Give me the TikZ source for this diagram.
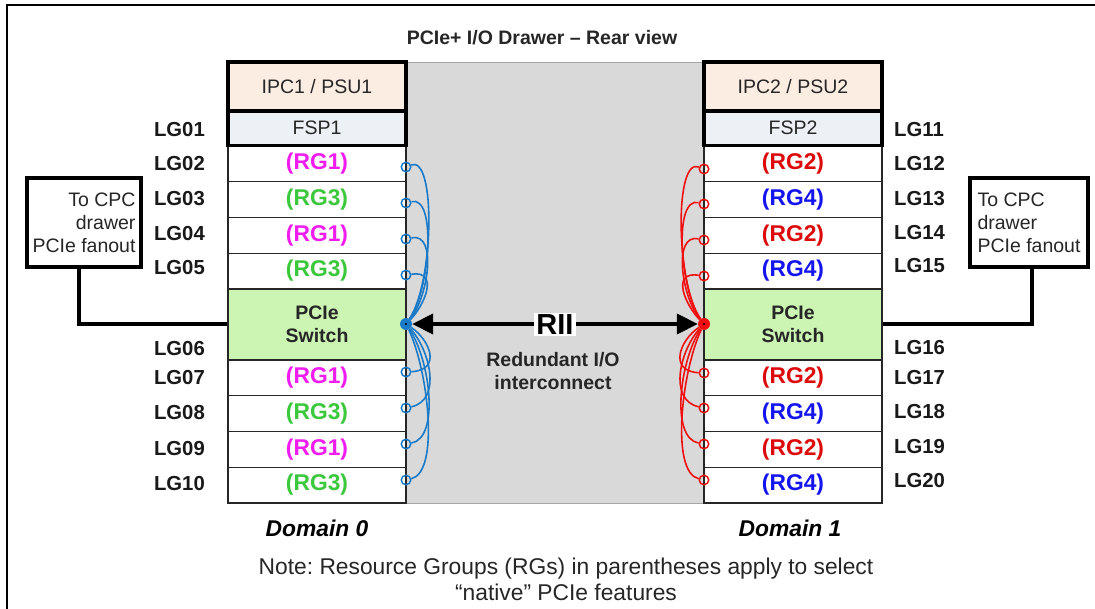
\documentclass[tikz,border=0pt]{standalone}
\usepackage{fontspec}
\setmainfont{Liberation Sans}
\usetikzlibrary{arrows.meta}
\frenchspacing

\definecolor{peach}{HTML}{FCEDE3}
\definecolor{fspgray}{HTML}{EDF0F5}
\definecolor{swgreen}{HTML}{CCF5B4}
\definecolor{midgray}{HTML}{D9D9D9}
\definecolor{rgmag}{HTML}{F01CF0}
\definecolor{rggreen}{HTML}{3CC83C}
\definecolor{rgred}{HTML}{DC0A0A}
\definecolor{rgblue}{HTML}{1414F0}
\definecolor{linkblue}{HTML}{1A7AC8}
\definecolor{linkred}{HTML}{F01010}
\definecolor{txt}{HTML}{262626}

\newcommand{\fsA}{\fontsize{19.5}{23}\selectfont}
\newcommand{\fsL}{\fontsize{20.3}{23}\selectfont}
\newcommand{\fsB}{\fontsize{22.8}{26}\selectfont}
\newcommand{\fsC}{\fontsize{29}{32}\selectfont}

\tikzset{
  slot/.style={draw=black!85, line width=1.3pt, fill=white, minimum width=178pt,
    minimum height=35.75pt, inner sep=0pt, font=\fsB\bfseries},
  topbox/.style={draw=black, line width=3.5pt, minimum width=178pt, inner sep=0pt,
    font=\fsA, text=txt},
  switchbox/.style={draw=black!85, line width=1.3pt, fill=swgreen, minimum width=178pt,
    minimum height=71pt, inner sep=0pt, align=center, font=\fsA\bfseries, text=txt},
  lglabel/.style={font=\fsL\bfseries, inner sep=0pt, text=black!90},
  cpcbox/.style={draw=black, line width=4pt, fill=white, minimum height=89pt,
    inner sep=0pt, font=\fsA, text=txt},
  cpcwire/.style={line width=4pt, black},
  bport/.style={circle, draw=linkblue, line width=1.5pt, minimum size=9.5pt, inner sep=0pt},
  rport/.style={circle, draw=linkred, line width=1.5pt, minimum size=9.5pt, inner sep=0pt},
  bhub/.style={circle, fill=linkblue, minimum size=12pt, inner sep=0pt},
  rhubst/.style={circle, fill=linkred, minimum size=12pt, inner sep=0pt},
  bwire/.style={linkblue, line width=1.6pt},
  rwire/.style={linkred, line width=1.6pt},
  riiline/.style={line width=4pt, black, {Triangle[length=21pt,width=20pt]}-{Triangle[length=21pt,width=20pt]}},
}

\begin{document}
\begin{tikzpicture}[x=1pt,y=-1pt]
\useasboundingbox (0,0) rectangle (1095,609);

% outer frame (top and left rules)
\draw[line width=1.5pt] (7,609) -- (7,5) -- (1095,5);

% title
\node[font=\fsA\bfseries, text=txt] (title) at (542,38) {PCIe+ I/O Drawer -- Rear view};

% interconnect backplane
\node[draw=gray!70, line width=0.8pt, fill=midgray, minimum width=298pt, minimum height=441pt,
  inner sep=0pt] (plane) at (555,282.5) {};

% ---------- left domain ----------
\node[slot, text=rgmag]   (l02) at (317,163.9) {(RG1)};
\node[slot, text=rggreen] (l03) at (317,199.6) {(RG3)};
\node[slot, text=rgmag]   (l04) at (317,235.4) {(RG1)};
\node[slot, text=rggreen] (l05) at (317,271.1) {(RG3)};
\node[switchbox]          (lsw) at (317,324.5) {PCIe\\Switch};
\node[slot, text=rgmag]   (l07) at (317,377.9) {(RG1)};
\node[slot, text=rggreen] (l08) at (317,413.6) {(RG3)};
\node[slot, text=rgmag]   (l09) at (317,449.4) {(RG1)};
\node[slot, text=rggreen] (l10) at (317,485.1) {(RG3)};
\node[topbox, fill=peach, minimum height=49pt]      (lipc) at (317,86.5) {IPC1 / PSU1};
\node[topbox, fill=fspgray, minimum height=34.5pt]  (lfsp) at (317,128.25) {FSP1};

% ---------- right domain ----------
\node[slot, text=rgred]  (r12) at (793,163.9) {(RG2)};
\node[slot, text=rgblue] (r13) at (793,199.6) {(RG4)};
\node[slot, text=rgred]  (r14) at (793,235.4) {(RG2)};
\node[slot, text=rgblue] (r15) at (793,271.1) {(RG4)};
\node[switchbox]         (rsw) at (793,324.5) {PCIe\\Switch};
\node[slot, text=rgred]  (r17) at (793,377.9) {(RG2)};
\node[slot, text=rgblue] (r18) at (793,413.6) {(RG4)};
\node[slot, text=rgred]  (r19) at (793,449.4) {(RG2)};
\node[slot, text=rgblue] (r20) at (793,485.1) {(RG4)};
\node[topbox, fill=peach, minimum height=49pt]      (ripc) at (793,86.5) {IPC2 / PSU2};
\node[topbox, fill=fspgray, minimum height=34.5pt]  (rfsp) at (793,128.25) {FSP2};

% ---------- slot labels ----------
\node[lglabel, anchor=east] (lg01) at (205,130) {LG01};
\node[lglabel, anchor=east] (lg02) at (205,164) {LG02};
\node[lglabel, anchor=east] (lg03) at (205,199) {LG03};
\node[lglabel, anchor=east] (lg04) at (205,234) {LG04};
\node[lglabel, anchor=east] (lg05) at (205,268) {LG05};
\node[lglabel, anchor=east] (lg06) at (205,349) {LG06};
\node[lglabel, anchor=east] (lg07) at (205,378) {LG07};
\node[lglabel, anchor=east] (lg08) at (205,413) {LG08};
\node[lglabel, anchor=east] (lg09) at (205,449) {LG09};
\node[lglabel, anchor=east] (lg10) at (205,484) {LG10};
\node[lglabel, anchor=west] (lg11) at (894,130) {LG11};
\node[lglabel, anchor=west] (lg12) at (894,164) {LG12};
\node[lglabel, anchor=west] (lg13) at (894,199) {LG13};
\node[lglabel, anchor=west] (lg14) at (894,233) {LG14};
\node[lglabel, anchor=west] (lg15) at (894,266) {LG15};
\node[lglabel, anchor=west] (lg16) at (894,348) {LG16};
\node[lglabel, anchor=west] (lg17) at (894,378) {LG17};
\node[lglabel, anchor=west] (lg18) at (894,412) {LG18};
\node[lglabel, anchor=west] (lg19) at (894,447) {LG19};
\node[lglabel, anchor=west] (lg20) at (894,481) {LG20};

% ---------- uplinks to the CPC drawer ----------
\node[cpcbox, minimum width=114pt, align=right] (lcpc) at (84,222.5) {To CPC\\drawer\\PCIe fanout};
\node[cpcbox, minimum width=118pt, align=left]  (rcpc) at (1029,222.5) {To CPC\\drawer\\PCIe fanout};
\coordinate (lbend) at (79,324);
\coordinate (rbend) at (1032,324);
\draw[cpcwire] (lcpc.south -| lbend) -- (lbend) -- (lsw.west |- lbend);
\draw[cpcwire] (rcpc.south -| rbend) -- (rbend) -- (rsw.east |- rbend);

% ---------- fan-out ports and hubs ----------
\node[bhub] (lhub) at (406,324) {};
\node[rhubst] (rhub) at (704,324) {};

\node[bport] (lp02) at (406,167) {};
\node[bport] (lp03) at (406,203) {};
\node[bport] (lp04) at (406,239) {};
\node[bport] (lp05) at (406,275) {};
\node[bport] (lp07) at (406,372) {};
\node[bport] (lp08) at (406,408) {};
\node[bport] (lp09) at (406,444) {};
\node[bport] (lp10) at (406,480) {};

\node[rport] (rp12) at (704,169) {};
\node[rport] (rp13) at (704,204) {};
\node[rport] (rp14) at (704,240) {};
\node[rport] (rp15) at (704,276) {};
\node[rport] (rp17) at (704,373) {};
\node[rport] (rp18) at (704,408) {};
\node[rport] (rp19) at (704,444) {};
\node[rport] (rp20) at (704,480) {};

% blue links, domain 0
\draw[bwire] (lp02) .. controls (436,155) and (434,282) .. (lhub);
\draw[bwire] (lp03) .. controls (437,195) and (430,290) .. (lhub);
\draw[bwire] (lp04) .. controls (438,232) and (428,298) .. (lhub);
\draw[bwire] (lp05) .. controls (440,270) and (424,306) .. (lhub);
\draw[bwire] (lhub) .. controls (430,340) and (442,370) .. (lp07);
\draw[bwire] (lhub) .. controls (430,350) and (442,400) .. (lp08);
\draw[bwire] (lhub) .. controls (430,360) and (440,438) .. (lp09);
\draw[bwire] (lhub) .. controls (428,370) and (440,472) .. (lp10);

% red links, domain 1
\draw[rwire] (rp12) .. controls (674,157) and (676,284) .. (rhub);
\draw[rwire] (rp13) .. controls (673,196) and (680,290) .. (rhub);
\draw[rwire] (rp14) .. controls (672,233) and (682,298) .. (rhub);
\draw[rwire] (rp15) .. controls (670,271) and (686,306) .. (rhub);
\draw[rwire] (rhub) .. controls (680,340) and (668,371) .. (rp17);
\draw[rwire] (rhub) .. controls (680,350) and (668,400) .. (rp18);
\draw[rwire] (rhub) .. controls (680,360) and (670,438) .. (rp19);
\draw[rwire] (rhub) .. controls (682,370) and (670,472) .. (rp20);

% hub centres
\fill[black] (lhub.center) circle (1.2pt);
\fill[black] (rhub.center) circle (1.2pt);

% redundant I/O interconnect
\draw[riiline] (lhub) -- (rhub);
\node[fill=white, font=\fsC\bfseries, inner sep=2pt] (rii) at (555,324.5) {RII};
\node[font=\fsA\bfseries, text=txt, align=center] (riitext) at (553,371) {Redundant I/O\\interconnect};

% domain captions and note
\node[font=\fsB\bfseries\itshape] (dom0) at (317,528) {Domain 0};
\node[font=\fsB\bfseries\itshape] (dom1) at (790,528) {Domain 1};
\node[font=\fsB, text=txt, align=center] (note) at (566,579)
  {Note: Resource Groups (RGs) in parentheses apply to select\\``native'' PCIe features};
\end{tikzpicture}
\end{document}
